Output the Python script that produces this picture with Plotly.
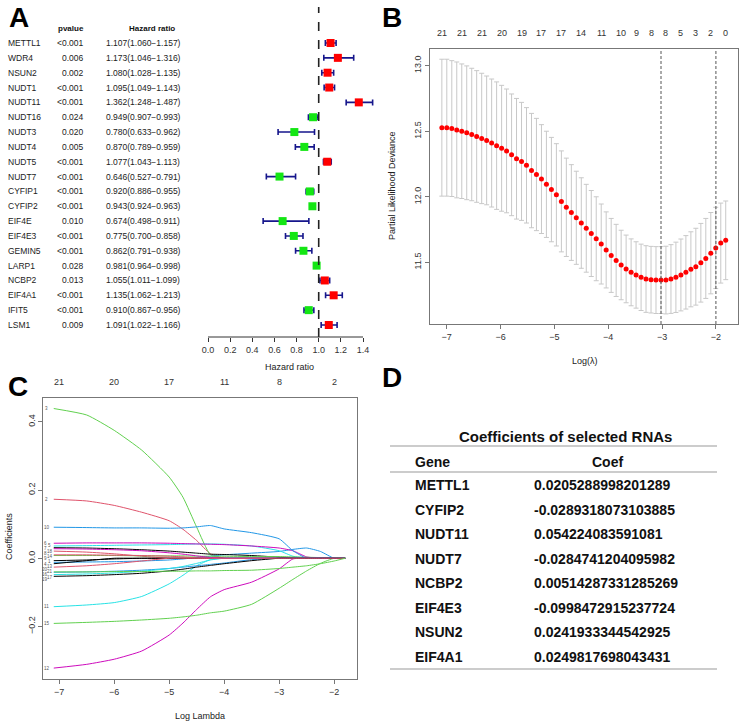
import plotly.graph_objects as go

W, H = 740, 724
FONT = "Liberation Sans"


def px(x):
    return x / W


def py(y):
    return 1 - y / H


# ---------- A: univariate Cox forest ----------
genes_a = ["METTL1", "WDR4", "NSUN2", "NUDT1", "NUDT11", "NUDT16", "NUDT3", "NUDT4",
           "NUDT5", "NUDT7", "CYFIP1", "CYFIP2", "EIF4E", "EIF4E3", "GEMIN5", "LARP1",
           "NCBP2", "EIF4A1", "IFIT5", "LSM1"]
pvalues = ["<0.001", "0.006", "0.002", "<0.001", "<0.001", "0.024", "0.020", "0.005",
           "<0.001", "<0.001", "<0.001", "<0.001", "0.010", "<0.001", "<0.001", "0.028",
           "0.013", "<0.001", "<0.001", "0.009"]
hr = [1.107, 1.173, 1.080, 1.095, 1.362, 0.949, 0.780, 0.870, 1.077, 0.646,
      0.920, 0.943, 0.674, 0.775, 0.862, 0.981, 1.055, 1.135, 0.910, 1.091]
hr_low = [1.060, 1.046, 1.028, 1.049, 1.248, 0.907, 0.633, 0.789, 1.043, 0.527,
          0.886, 0.924, 0.498, 0.700, 0.791, 0.964, 1.011, 1.062, 0.867, 1.022]
hr_high = [1.157, 1.316, 1.135, 1.143, 1.487, 0.993, 0.962, 0.959, 1.113, 0.791,
           0.955, 0.963, 0.911, 0.858, 0.938, 0.998, 1.099, 1.213, 0.956, 1.166]
hr_ticks = [0.0, 0.2, 0.4, 0.6, 0.8, 1.0, 1.2, 1.4]

# ---------- B: cross-validation curve ----------
log_lambda = [-7.090, -6.998, -6.905, -6.813, -6.720, -6.628, -6.535, -6.443, -6.350, -6.258,
              -6.165, -6.073, -5.980, -5.888, -5.795, -5.703, -5.610, -5.518, -5.425, -5.333,
              -5.240, -5.148, -5.055, -4.963, -4.870, -4.778, -4.685, -4.593, -4.500, -4.408,
              -4.315, -4.223, -4.130, -4.038, -3.945, -3.853, -3.760, -3.668, -3.575, -3.483,
              -3.390, -3.298, -3.205, -3.113, -3.020, -2.928, -2.835, -2.743, -2.650, -2.558,
              -2.465, -2.373, -2.280, -2.188, -2.095, -2.003, -1.910, -1.818]
cv_mean = [12.527, 12.527, 12.520, 12.510, 12.500, 12.488, 12.475, 12.460, 12.445, 12.430,
           12.410, 12.390, 12.370, 12.350, 12.320, 12.290, 12.270, 12.240, 12.200, 12.170,
           12.135, 12.095, 12.055, 12.015, 11.965, 11.920, 11.880, 11.840, 11.800, 11.760,
           11.720, 11.680, 11.640, 11.595, 11.553, 11.515, 11.480, 11.450, 11.424, 11.404,
           11.386, 11.373, 11.368, 11.365, 11.365, 11.365, 11.373, 11.386, 11.404, 11.424,
           11.447, 11.467, 11.497, 11.530, 11.570, 11.610, 11.647, 11.668]
cv_se = [0.522, 0.522, 0.518, 0.518, 0.513, 0.510, 0.505, 0.502, 0.497, 0.491,
         0.488, 0.486, 0.480, 0.472, 0.464, 0.460, 0.450, 0.440, 0.436, 0.428,
         0.415, 0.405, 0.398, 0.390, 0.385, 0.375, 0.365, 0.355, 0.345, 0.335,
         0.328, 0.320, 0.305, 0.290, 0.282, 0.275, 0.265, 0.258, 0.255, 0.253,
         0.253, 0.254, 0.254, 0.255, 0.255, 0.258, 0.262, 0.268, 0.274, 0.280,
         0.286, 0.293, 0.300, 0.305, 0.310, 0.310, 0.305, 0.300]
nz_index = [0, 4, 8, 12, 16, 20, 24, 28, 32, 36, 39, 42, 45, 48, 51, 54, 57]
nz_count = [21, 21, 21, 20, 19, 17, 17, 14, 11, 10, 9, 8, 8, 5, 3, 2, 0]
lambda_min_log = -3.02
lambda_1se_log = -2.00

# ---------- C: coefficient paths ----------
path_x = [-7.1, -6.5, -6.0, -5.5, -5.0, -4.75, -4.5, -4.25, -4.0, -3.5, -3.0, -2.75, -2.5, -2.25, -2.0, -1.8]
path_coefs = [
    [-0.007, -0.005, -0.002, 0, 0, 0, 0, 0, 0, 0, 0, 0, 0, 0, 0, 0],
    [0.173, 0.168, 0.155, 0.135, 0.110, 0.085, 0.052, 0.013, 0, 0, 0, 0, 0, 0, 0, 0],
    [0.439, 0.420, 0.375, 0.317, 0.238, 0.179, 0.091, 0.010, 0, 0, 0, 0, 0, 0, 0, 0],
    [-0.012, -0.011, -0.010, -0.008, -0.005, -0.002, 0.002, 0.006, 0.010, 0.015, 0.020, 0.026, 0.030, 0.020, 0, 0],
    [0.036, 0.037, 0.038, 0.039, 0.040, 0.041, 0.042, 0.042, 0.041, 0.036, 0.022, 0.006, 0, 0, 0, 0],
    [0.044, 0.045, 0.045, 0.045, 0.044, 0.043, 0.042, 0.041, 0.040, 0.036, 0.030, 0.022, 0.004, 0, 0, 0],
    [0.031, 0.030, 0.028, 0.025, 0.021, 0.018, 0.015, 0.012, 0.011, 0.008, 0.003, 0, 0, 0, 0, 0],
    [0.021, 0.018, 0.013, 0.006, 0, 0, 0, 0, 0, 0, 0, 0, 0, 0, 0, 0],
    [0.008, 0.008, 0.008, 0.007, 0.007, 0.007, 0.006, 0.006, 0.006, 0.005, 0.005, 0.004, 0.003, 0.002, 0.001, 0],
    [0.091, 0.090, 0.089, 0.089, 0.088, 0.089, 0.092, 0.096, 0.086, 0.075, 0.057, 0.022, 0, 0, 0, 0],
    [-0.142, -0.137, -0.130, -0.112, -0.075, -0.050, -0.022, -0.004, 0, 0, 0, 0, 0, 0, 0, 0],
    [-0.322, -0.311, -0.296, -0.272, -0.225, -0.190, -0.150, -0.113, -0.092, -0.070, -0.031, -0.002, 0, 0, 0, 0],
    [-0.016, -0.007, 0, 0, 0, 0, 0, 0, 0, 0, 0, 0, 0, 0, 0, 0],
    [0.010, 0.010, 0.009, 0.008, 0.006, 0.004, 0.001, 0, 0, 0, 0, 0, 0, 0, 0, 0],
    [-0.191, -0.188, -0.185, -0.181, -0.176, -0.172, -0.167, -0.160, -0.155, -0.135, -0.088, -0.062, -0.037, -0.015, 0, 0],
    [-0.041, -0.040, -0.038, -0.035, -0.030, -0.026, -0.022, -0.018, -0.014, -0.004, 0, 0, 0, 0, 0, 0],
    [-0.048, -0.046, -0.043, -0.038, -0.030, -0.024, -0.015, -0.005, 0, 0, 0, 0, 0, 0, 0, 0],
    [0.028, 0.027, 0.025, 0.022, 0.016, 0.012, 0.007, 0.002, 0, 0, 0, 0, 0, 0, 0, 0],
    [-0.053, -0.051, -0.048, -0.044, -0.037, -0.032, -0.026, -0.021, -0.016, -0.007, 0, 0, 0, 0, 0, 0],
    [-0.026, -0.022, -0.016, -0.008, 0, 0, 0, 0, 0, 0, 0, 0, 0, 0, 0, 0],
    [-0.040, -0.040, -0.039, -0.039, -0.038, -0.038, -0.037, -0.037, -0.036, -0.035, -0.030, -0.026, -0.022, -0.016, -0.008, 0],
]
path_palette = ["#000000", "#DF536B", "#61D04F", "#2297E6", "#28E2E5", "#CD0BBC"]
top_c_x = [-7, -6, -5, -4, -3, -2]
top_c_nz = [21, 20, 17, 11, 8, 2]

# ---------- D: selected coefficients ----------
sel_genes = ["METTL1", "CYFIP2", "NUDT11", "NUDT7", "NCBP2", "EIF4E3", "NSUN2", "EIF4A1"]
sel_coefs = [0.0205288998201289, -0.0289318073103885, 0.054224083591081, -0.0284741204095982,
             0.00514287331285269, -0.0998472915237724, 0.0241933344542925, 0.0249817698043431]

fig = go.Figure()
ann = []
shapes = []


def label(x, y, text, xref="paper", yref="paper", size=9, color="#222", xanchor="center", **kw):
    ann.append(dict(x=x, y=y, xref=xref, yref=yref, text=text, showarrow=False,
                    xanchor=xanchor, yanchor="middle",
                    font=dict(family=FONT, size=size, color=color), **kw))


# A: squares with CI bars
rows = list(range(len(genes_a)))
sq_colors = ["#FF0000" if v > 1 else "#14E614" for v in hr]
fig.add_trace(go.Scatter(
    x=hr, y=rows, mode="markers", xaxis="x", yaxis="y",
    marker=dict(symbol="square", size=8, color=sq_colors, line=dict(width=0)),
    error_x=dict(type="data", symmetric=False,
                 array=[h - v for h, v in zip(hr_high, hr)],
                 arrayminus=[v - l for v, l in zip(hr, hr_low)],
                 color="#16168C", thickness=1.6, width=3),
))
for i, g in enumerate(genes_a):
    label(px(6), i, g, yref="y", size=8.5, xanchor="left")
    label(px(86), i, pvalues[i], yref="y", size=8.5, xanchor="right")
    txt = f"{hr[i]:.3f}({hr_low[i]:.3f}\u2212{hr_high[i]:.3f})"
    label(px(104), i, txt, yref="y", size=8.5, xanchor="left")
label(px(86), -0.95, "<b>pvalue</b>", yref="y", size=8, color="#111", xanchor="right")
label(px(177), -0.95, "<b>Hazard ratio</b>", yref="y", size=8, color="#111", xanchor="right")
label(px(289), py(367), "Hazard ratio")
shapes.append(dict(type="line", xref="x", yref="paper", x0=1.0, x1=1.0, y0=py(337), y1=py(7),
                   line=dict(color="#222", width=1.6, dash="dash")))
shapes.append(dict(type="line", xref="x", yref="paper", x0=hr_ticks[0], x1=hr_ticks[-1], y0=py(337), y1=py(337),
                   line=dict(color="#333", width=1)))

# B: CV deviance with error bars
fig.add_trace(go.Scatter(
    x=log_lambda, y=cv_mean, mode="markers", xaxis="x2", yaxis="y2",
    marker=dict(color="#FF0000", size=5),
    error_y=dict(type="data", array=cv_se, color="#C8C8C8", thickness=1, width=2.5),
))
for v in [lambda_min_log, lambda_1se_log]:
    shapes.append(dict(type="line", xref="x2", yref="y2 domain", x0=v, x1=v, y0=0, y1=1,
                       line=dict(color="#555", width=1, dash="3px,2px")))
for k, n in zip(nz_index, nz_count):
    label(log_lambda[k], py(33), str(n), xref="x2", color="#333")
label(px(585), py(361), "Log(\u03bb)")
label(px(392), py(186), "Partial Likelihood Deviance", textangle=-90)

# C: coefficient paths
for j, vals in enumerate(path_coefs):
    fig.add_trace(go.Scatter(
        x=path_x, y=vals, mode="lines", xaxis="x3", yaxis="y3",
        line=dict(color=path_palette[j % 6], width=1, shape="spline", smoothing=0.5),
    ))

# variable numbers at the left end; the crowded ones near zero are spread in two columns
c_y0, c_y1 = -0.354, 0.469
c_top, c_bot = 398.3, 679.0
start_px = [c_bot - (vals[0] - c_y0) / (c_y1 - c_y0) * (c_bot - c_top) for vals in path_coefs]
order = sorted(range(len(path_coefs)), key=lambda j: start_px[j])
last = {0: -99.0, 1: -99.0}
col = 0
for j in order:
    ypix = start_px[j]
    crowded = any(abs(ypix - start_px[k]) < 5 for k in range(len(path_coefs)) if k != j)
    if crowded:
        ypix = max(ypix, last[col] + 5.2)
        last[col] = ypix
        xpos = -7.255 if col == 0 else -7.175
        col = 1 - col
    else:
        xpos = -7.225
    label(xpos, py(ypix), str(j + 1), xref="x3", size=4.5, color="#555")

for xv, n in zip(top_c_x, top_c_nz):
    label(xv, py(382), str(n), xref="x3", color="#333")
label(px(200), py(716), "Log Lambda")
label(px(9), py(537), "Coefficients", textangle=-90)

# D: coefficient table
label(px(565), py(436), "<b>Coefficients of selected RNAs</b>", size=15, color="#111")
label(px(413), py(462), "<b>Gene</b>", size=14, color="#111", xanchor="left")
label(px(607), py(462), "<b>Coef</b>", size=14, color="#111")
for i, (g, c) in enumerate(zip(sel_genes, sel_coefs)):
    yy = py(485 + 24.5 * i)
    label(px(413), yy, f"<b>{g}</b>", size=14, color="#111", xanchor="left")
    label(px(532), yy, f"<b>{c!r}</b>", size=14, color="#111", xanchor="left")
for yl in [446, 472, 669]:
    shapes.append(dict(type="line", xref="paper", yref="paper", x0=px(390), x1=px(717), y0=py(yl), y1=py(yl),
                       line=dict(color="#999", width=1)))

# panel letters
for letter, (lx, ly) in zip("ABCD", [(19, 18), (392, 18), (18, 386), (392, 377)]):
    label(px(lx), py(ly), f"<b>{letter}</b>", size=28, color="#000")

tick_font = dict(family=FONT, size=9, color="#333")
box = dict(showline=True, mirror=True, linecolor="#777", linewidth=1, showgrid=False, zeroline=False,
           ticks="outside", ticklen=4, tickcolor="#777", tickfont=tick_font)

fig.update_layout(
    width=W, height=H, autosize=False, showlegend=False,
    margin=dict(l=0, r=0, t=0, b=0),
    paper_bgcolor="white", plot_bgcolor="white",
    xaxis=dict(domain=[px(198), px(378)], range=[-0.0903, 1.5355], anchor="y",
               tickvals=hr_ticks, ticktext=[f"{t:.1f}" for t in hr_ticks],
               showline=False, showgrid=False, zeroline=False, ticks="outside", ticklen=4,
               tickcolor="#333", tickfont=tick_font),
    yaxis=dict(domain=[py(337), py(8)], range=[19.81, -2.36], visible=False),
    xaxis2=dict(domain=[px(430), px(738)], range=[-7.31, -1.59], anchor="y2",
                tickvals=[-7, -6, -5, -4, -3, -2], **box),
    yaxis2=dict(domain=[py(324), py(49)], range=[11.03, 13.127], anchor="x2",
                tickvals=[11.5, 12.0, 12.5, 13.0], ticktext=["11.5", "12.0", "12.5", "13.0"],
                tickangle=-90, **box),
    xaxis3=dict(domain=[px(43.3), px(356.7)], range=[-7.29, -1.59], anchor="y3",
                tickvals=[-7, -6, -5, -4, -3, -2], **box),
    yaxis3=dict(domain=[py(c_bot), py(c_top)], range=[c_y0, c_y1], anchor="x3",
                tickvals=[-0.2, 0.0, 0.2, 0.4], ticktext=["\u22120.2", "0.0", "0.2", "0.4"],
                tickangle=-90, **box),
    annotations=ann,
    shapes=shapes,
)

fig.write_html("out.html", config={"displayModeBar": False},
               post_script="document.body.style.margin='0px';document.body.style.overflow='hidden';")
